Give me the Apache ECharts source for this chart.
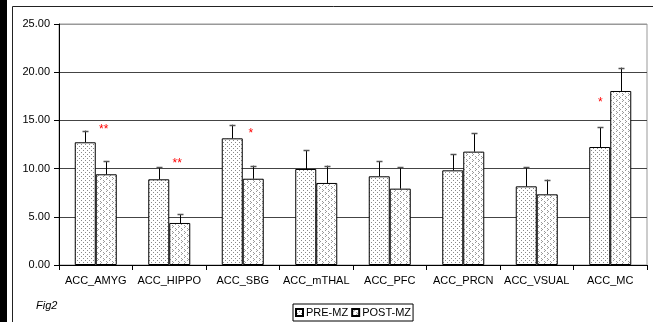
<!DOCTYPE html>
<html>
<head>
<meta charset="utf-8">
<script src="https://cdn.jsdelivr.net/npm/echarts@6/dist/echarts.min.js"></script>
<style>
  html, body { margin: 0; padding: 0; background: #fff; }
  #chart { width: 653px; height: 322px; }
</style>
</head>
<body>
<div id="chart"></div>
<script>
// categories
var regions = ['ACC_AMYG', 'ACC_HIPPO', 'ACC_SBG', 'ACC_mTHAL', 'ACC_PFC', 'ACC_PRCN', 'ACC_VSUAL', 'ACC_MC'];
// mean values
var preMZ  = [12.73, 8.89, 13.14, 9.96, 9.20, 9.82, 8.16, 12.24];
var postMZ = [9.41, 4.36, 8.95, 8.51, 7.92, 11.76, 7.33, 18.05];
// top of error bars
var preErr  = [13.93, 10.13, 14.55, 11.93, 10.79, 11.48, 10.13, 14.28];
var postErr = [10.79, 5.26, 10.30, 10.30, 10.13, 13.66, 8.85, 20.47];
// significance marks: category, level, side (0 = pre bar, 1 = post bar), text
var starCat  = [0, 1, 2, 7];
var starVal  = [14.3, 10.8, 13.9, 17.1];
var starSide = [1, 1, 1, 0];
var starText = ['**', '**', '*', '*'];
// y axis ticks
var yTicks = [0, 5, 10, 15, 20, 25];

var FONT = '"Liberation Sans", Arial, sans-serif';
var BAR_W = 21;

// 패턴 만들기
function makePattern(kind) {
	var c = document.createElement('canvas');
	var ctx = c.getContext('2d');
	if (kind === 'dots') {
		c.width = 4; c.height = 4;
		ctx.fillStyle = '#fff';
		ctx.fillRect(0, 0, 4, 4);
		ctx.fillStyle = '#888';
		ctx.fillRect(1, 0, 1, 1);
		ctx.fillRect(3, 2, 1, 1);
	} else {
		c.width = 6; c.height = 6;
		ctx.fillStyle = '#fff';
		ctx.fillRect(0, 0, 6, 6);
		ctx.fillStyle = '#999';
		ctx.fillRect(1, 0, 1, 1);
		ctx.fillRect(2, 1, 1, 1);
		ctx.fillRect(1, 2, 1, 1);
		ctx.fillRect(4, 3, 1, 1);
		ctx.fillRect(5, 4, 1, 1);
		ctx.fillRect(4, 5, 1, 1);
	}
	return { image: c, repeat: 'repeat' };
}

function errData(vals, tops) {
	var out = [];
	for (var i = 0; i < vals.length; i++) out.push([i, vals[i], tops[i]]);
	return out;
}

// 에러바 (위쪽만)
function errRender(side) {
	return function(params, api) {
		var base = api.coord([api.value(0), api.value(1)]);
		var top = api.coord([api.value(0), api.value(2)]);
		var x = Math.round(base[0] + (side ? BAR_W / 2 : -BAR_W / 2)) + 0.5;
		return {
			type: 'group',
			children: [
				{ type: 'line', shape: { x1: x, y1: base[1], x2: x, y2: top[1] },
				  style: { stroke: '#000', lineWidth: 1 } },
				{ type: 'line', shape: { x1: x - 3, y1: Math.round(top[1]) + 0.5, x2: x + 3, y2: Math.round(top[1]) + 0.5 },
				  style: { stroke: '#555', lineWidth: 1.5 } }
			]
		};
	};
}

var starData = [];
for (var i = 0; i < starCat.length; i++) starData.push([starCat[i], starVal[i], starSide[i]]);

var chart = echarts.init(document.getElementById('chart'));

var option = {
	animation: false,
	backgroundColor: '#fff',
	textStyle: { fontFamily: FONT },
	grid: { left: 59, top: 24, right: 6, bottom: 57, show: true, borderColor: '#999', borderWidth: 1 },
	legend: {
		data: ['PRE-MZ', 'POST-MZ'],
		left: 293, top: 304,
		itemWidth: 7, itemHeight: 7, itemGap: 3,
		padding: [3, 2],
		borderColor: '#000', borderWidth: 1,
		icon: 'rect',
		textStyle: { fontFamily: FONT, fontSize: 11, color: '#000', padding: [0, 0, 0, -2] }
	},
	xAxis: {
		type: 'category',
		data: regions,
		axisLine: { lineStyle: { color: '#000', width: 1 } },
		axisTick: { show: true, length: 5, lineStyle: { color: '#000' } },
		axisLabel: { color: '#000', fontSize: 11, fontFamily: FONT, margin: 10, interval: 0 }
	},
	yAxis: {
		type: 'value',
		min: 0, max: 25, interval: 5,
		axisLine: { show: true, lineStyle: { color: '#000', width: 1 } },
		axisTick: { show: true, length: 5, lineStyle: { color: '#000' } },
		axisLabel: {
			color: '#000', fontSize: 11, fontFamily: FONT, margin: 9,
			formatter: function(v) { return yTicks.indexOf(v) >= 0 ? v.toFixed(2) : ''; }
		},
		splitLine: { show: true, lineStyle: { color: ['transparent', '#444', '#444', '#444', '#444', '#999'], width: 1 } }
	},
	series: [
		{
			name: 'PRE-MZ', type: 'bar', data: preMZ,
			barWidth: BAR_W, barGap: '0%',
			itemStyle: { color: makePattern('dots'), borderColor: '#000', borderWidth: 1 }
		},
		{
			name: 'POST-MZ', type: 'bar', data: postMZ,
			barWidth: BAR_W, barGap: '0%',
			itemStyle: { color: makePattern('cross'), borderColor: '#000', borderWidth: 1 }
		},
		{ type: 'custom', data: errData(preMZ, preErr), renderItem: errRender(0), z: 5, silent: true },
		{ type: 'custom', data: errData(postMZ, postErr), renderItem: errRender(1), z: 5, silent: true },
		{
			type: 'custom', data: starData, z: 6, silent: true,
			renderItem: function(params, api) {
				var p = api.coord([api.value(0), api.value(1)]);
				var off = api.value(2) ? 8 : -10;
				return {
					type: 'text',
					style: {
						x: p[0] + off, y: p[1] + 3,
						text: starText[params.dataIndex],
						fill: '#f00', font: '12px ' + FONT,
						textAlign: 'center', textVerticalAlign: 'middle'
					}
				};
			}
		}
	],
	graphic: [
		{ type: 'rect', left: 0, top: 0, shape: { width: 7, height: 322 }, style: { fill: '#000' } },
		{ type: 'rect', shape: { x: 12.5, y: 6.5, width: 700, height: 400 }, style: { fill: 'none', stroke: '#222', lineWidth: 1 }, z: -1 },
		{ type: 'text', left: 36, top: 300, style: { text: 'Fig2', font: 'italic 11px ' + FONT, fill: '#000' } }
	]
};

chart.setOption(option);
</script>
</body>
</html>
